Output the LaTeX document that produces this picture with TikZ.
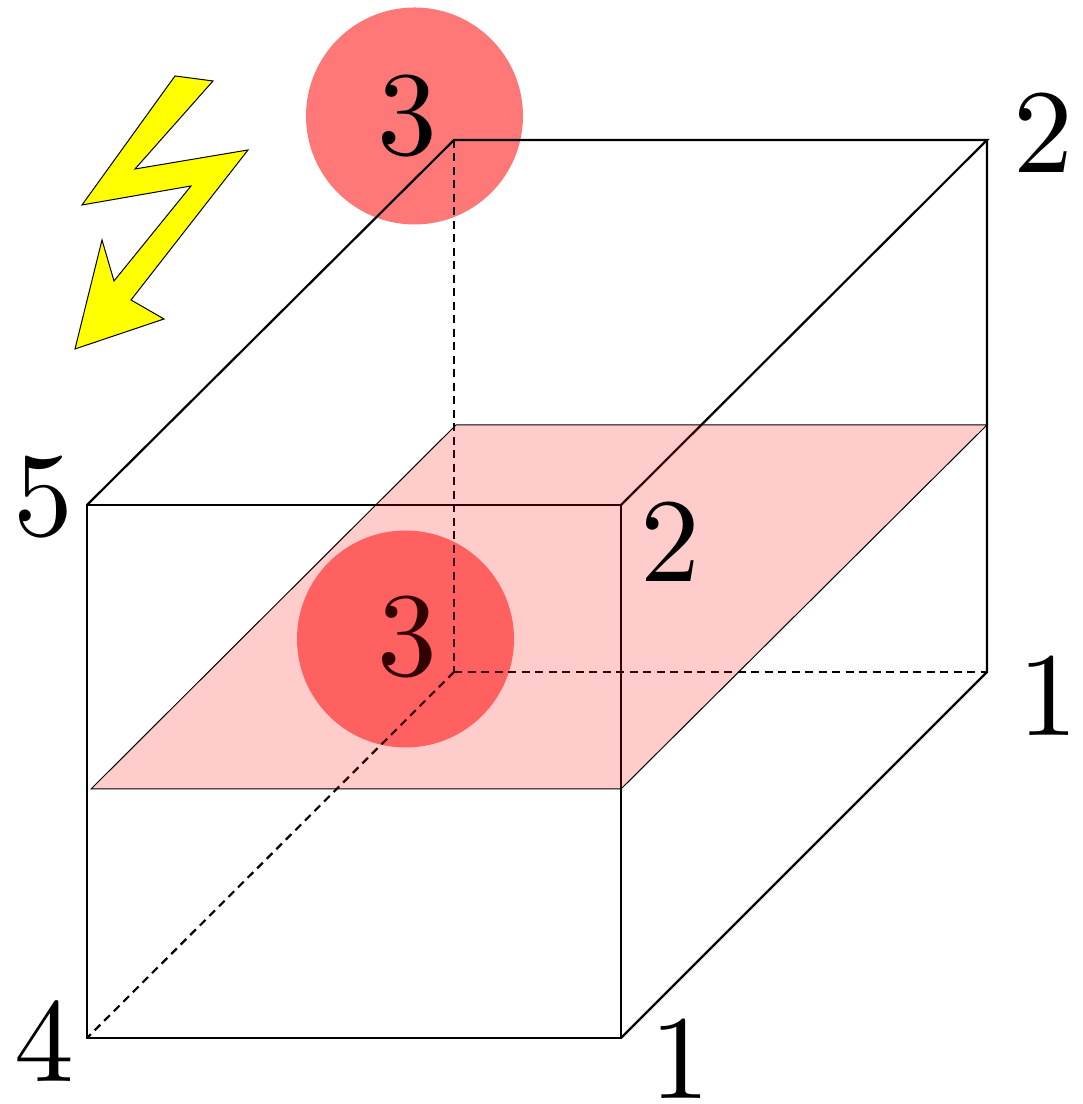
\documentclass[tikz,border=0pt]{standalone}
\usepackage{amsmath, amssymb}
\definecolor{flash}{RGB}{255,255,0}
\definecolor{blobred}{RGB}{255,0,0}
\tikzset{
  edge/.style={line width=0.022cm},
  hidden/.style={edge,dash pattern=on 0.08cm off 0.055cm},
  lab/.style={inner sep=0pt,scale=3.4},
  blob/.style={blobred,opacity=0.53},
}
\begin{document}
\begin{tikzpicture}
\useasboundingbox (0,0) rectangle (10.82,11.04);
% corners of the box
\coordinate (a) at (0.87,0.66);
\coordinate (b) at (6.21,0.66);
\coordinate (c) at (6.21,5.99);
\coordinate (d) at (0.87,5.99);
\coordinate (e) at (4.54,4.32);
\coordinate (f) at (9.87,4.32);
\coordinate (g) at (9.87,9.64);
\coordinate (h) at (4.54,9.64);
% particle, before and after
\fill[blob] (4.145,9.88) circle (1.085);
\fill[blob] (4.055,4.65) circle (1.085);
% box
\draw[edge] (a) -- (b) -- (c) -- (d) -- cycle;
\draw[edge] (d) -- (h) -- (g) -- (c);
\draw[edge] (b) -- (f) -- (g);
\draw[hidden] (h) -- (e);
\draw[hidden] (e) -- (f);
\draw[hidden] (e) -- (a);
% flash
\draw[line width=0.01cm,fill=flash] (1.75,10.28) -- (2.13,10.23) -- (1.35,9.35) -- (2.48,9.54) -- (1.31,8.04) -- (1.64,7.85) -- (0.75,7.55) -- (1.02,8.64) -- (1.14,8.23) -- (1.91,9.18) -- (0.82,8.99) -- cycle;
% labels
\node[lab] (topthree) at (4.07,9.875) {$3$};
\node[lab] (midthree) at (4.07,4.665) {$3$};
\node[lab] (backtwo) at (10.43,9.70) {$2$};
\node[lab] (five) at (0.43,6.07) {$5$};
\node[lab] (backone) at (10.48,4.07) {$1$};
\node[lab] (frontone) at (6.80,0.44) {$1$};
\node[lab] (four) at (0.44,0.61) {$4$};
% middle plane
\draw[line width=0.01cm,fill=blobred,fill opacity=0.2] (0.91,3.15) -- (6.21,3.15) -- (9.87,6.79) -- (4.56,6.79) -- cycle;
\node[lab] (fronttwo) at (6.70,5.61) {$2$};
\end{tikzpicture}
\end{document}
